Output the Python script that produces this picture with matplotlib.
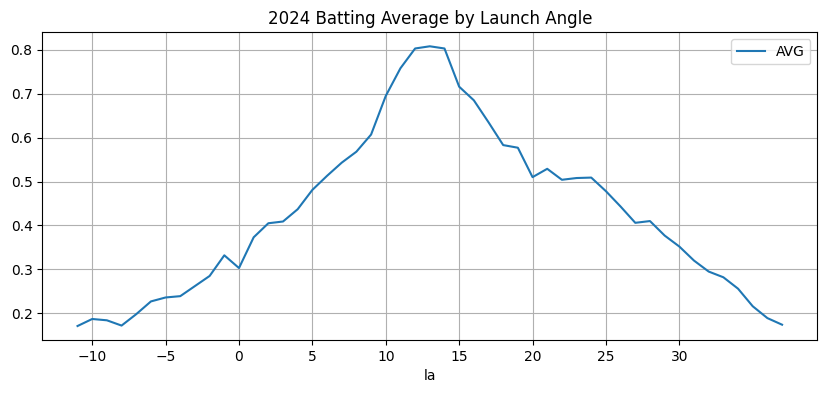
import matplotlib
matplotlib.use("Agg")
import matplotlib.pyplot as plt

la = list(range(-11, 38))
avg = [0.171, 0.187, 0.184, 0.172, 0.198, 0.227, 0.236, 0.239, 0.262, 0.285, 0.332,
       0.303, 0.373, 0.405, 0.409, 0.437, 0.481, 0.513, 0.543, 0.568, 0.607,
       0.695, 0.758, 0.803, 0.808, 0.803, 0.716, 0.685, 0.635, 0.583, 0.577,
       0.510, 0.529, 0.504, 0.508, 0.509, 0.478, 0.443, 0.406, 0.410, 0.377,
       0.352, 0.320, 0.295, 0.282, 0.256, 0.216, 0.189, 0.174]
xticks = list(range(-10, 31, 5))

fig = plt.figure(figsize=(8.26, 3.93), dpi=100)
ax = fig.add_subplot(111)
fig.subplots_adjust(left=42.3/826, right=817.3/826, top=1-32.3/393, bottom=1-340/393)
ax.plot(la, avg, label="AVG", color="#1f77b4")
ax.set_xticks(xticks)
ax.grid(True)
ax.set_xlabel("la")
ax.set_title("2024 Batting Average by Launch Angle")
ax.legend(loc="upper right")
fig.savefig("out.png", dpi=100)
